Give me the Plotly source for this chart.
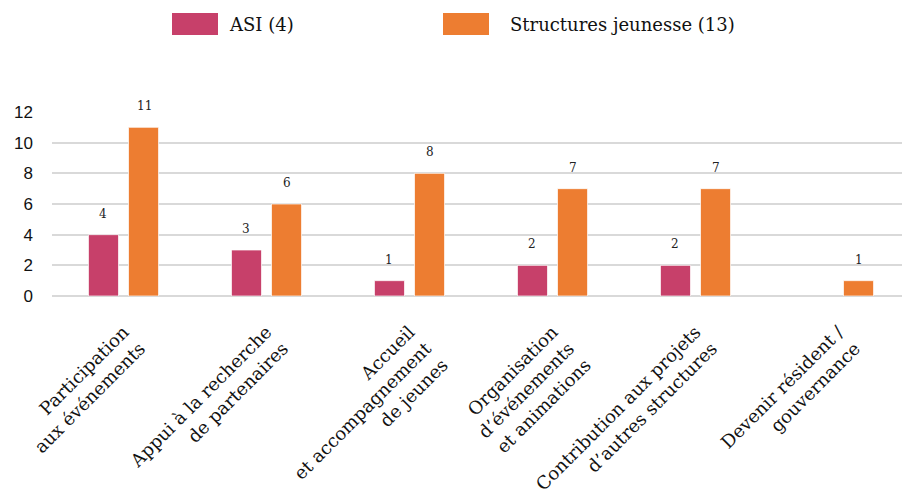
import plotly.graph_objects as go

categories = [
    "Participation<br>aux événements",
    "Appui à la recherche<br>de partenaires",
    "Accueil<br>et accompagnement<br>de jeunes",
    "Organisation<br>d’événements<br>et animations",
    "Contribution aux projets<br>d’autres structures",
    "Devenir résident /<br>gouvernance",
]
series_names = ["ASI (4)", "Structures jeunesse (13)"]
asi_values = [4, 3, 1, 2, 2, None]
sj_values = [11, 6, 8, 7, 7, 1]
y_ticks = [0, 2, 4, 6, 8, 10, 12]

colors = ["#C7406A", "#ED7D31"]
serif = "DejaVu Serif"

fig = go.Figure()
for name, vals, col in zip(series_names, [asi_values, sj_values], colors):
    fig.add_trace(go.Bar(
        x=categories, y=vals, name=name,
        marker=dict(color=col, line=dict(color="rgba(255,255,255,0.7)", width=1)),
        showlegend=False,
    ))

# value labels
for vals, shift in [(asi_values, -20.5), (sj_values, 20.5)]:
    for c, v in zip(categories, vals):
        if v is None:
            continue
        fig.add_annotation(x=c, y=v, xshift=shift, yshift=21, text=str(v),
                           showarrow=False, font=dict(family=serif, size=12, color="#222"))

# manual legend (page pixel positions converted to plot-area paper coords)
PL, PR, PT, PB = 52, 910, 112, 296
def px(x):
    return (x - PL) / (PR - PL)
def py(y):
    return (PB - y) / (PB - PT)

legend_pos = [(172, 218, 227), (443, 489, 508)]
for (x0, x1, tx), name, col in zip(legend_pos, series_names, colors):
    fig.add_shape(type="rect", xref="paper", yref="paper",
                  x0=px(x0), x1=px(x1), y0=py(35), y1=py(13),
                  fillcolor=col, line=dict(width=0))
    fig.add_annotation(xref="paper", yref="paper", x=px(tx), y=py(24),
                       xanchor="left", yanchor="middle", text=name, showarrow=False,
                       font=dict(family=serif, size=18, color="#111"))

OFF = 8  # page body margin
W, H = 910, 494
fig.update_layout(
    width=W, height=H,
    margin=dict(l=PL - OFF, r=W - (PR - OFF), t=PT - OFF, b=H - (PB - OFF)),
    plot_bgcolor="white", paper_bgcolor="white",
    barmode="group", bargap=0.44, bargroupgap=0.25,
    xaxis=dict(tickangle=-45, tickfont=dict(family=serif, size=18, color="#111"),
               showgrid=False, zeroline=False, showline=False, automargin=False,
               ticklabelstandoff=21),
    yaxis=dict(range=[0, 12], tickvals=y_ticks, showgrid=True, gridcolor="#D9D9D9",
               gridwidth=2, zeroline=True, zerolinecolor="#D9D9D9", zerolinewidth=2,
               tickfont=dict(family="Liberation Sans", size=17, color="#111"),
               ticklabelstandoff=18, automargin=False),
)
fig.write_html("out.html")
